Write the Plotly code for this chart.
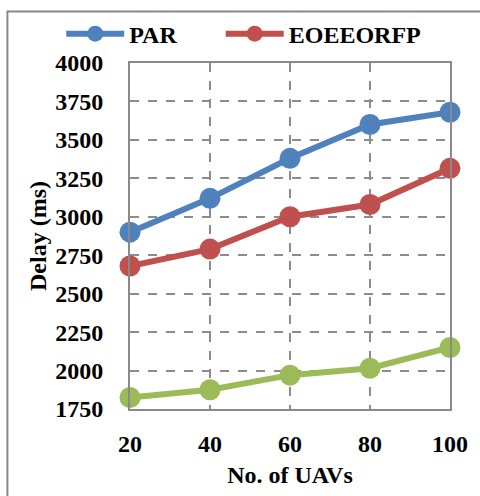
import plotly.graph_objects as go

# Delay versus number of UAVs
uav_counts = [20, 40, 60, 80, 100]
par_delay = [2900, 3120, 3380, 3600, 3680]
eoeeorfp_delay = [2680, 2790, 3000, 3080, 3315]
third_delay = [1825, 1875, 1970, 2015, 2150]

y_ticks = [1750, 2000, 2250, 2500, 2750, 3000, 3250, 3500, 3750, 4000]
x_ticks = [20, 40, 60, 80, 100]

FONT = "Liberation Serif, Times New Roman, serif"
FS = 24
GRID = "#8c8c8c"
AXIS = "#8a8a8a"

W, H = 480, 496
L, R, T, B = 130, 29, 62, 84
pw, ph = W - L - R, H - T - B

fig = go.Figure()

series = [
    ("PAR", par_delay, "#4F81BD", "legend", True),
    ("EOEEORFP", eoeeorfp_delay, "#C0504D", "legend2", True),
    ("Other", third_delay, "#9BBB59", "legend", False),
]
for name, vals, color, leg, show in series:
    fig.add_trace(go.Scatter(
        x=uav_counts, y=vals, name=name, mode="lines+markers",
        line=dict(color=color, width=6),
        marker=dict(color=color, size=21),
        showlegend=show, legend=leg, cliponaxis=False,
    ))

legend_style = dict(
    orientation="h", xanchor="left", yanchor="top",
    y=1 + (T - 10) / ph,
    font=dict(family=FONT, size=FS, color="black", weight="bold"),
    itemwidth=58, bgcolor="rgba(0,0,0,0)",
)

fig.update_layout(
    width=W, height=H,
    margin=dict(l=L, r=R, t=T, b=B),
    paper_bgcolor="white", plot_bgcolor="white",
    font=dict(family=FONT, size=FS, color="black", weight="bold"),
    showlegend=True,
    legend=dict(x=(61 - L) / pw, **legend_style),
    legend2=dict(x=(221 - L) / pw, **legend_style),
    xaxis=dict(
        range=[20, 100], tickvals=x_ticks, ticks="", ticklen=0,
        ticklabelstandoff=12,
        showgrid=True, gridcolor=GRID, griddash="dash", gridwidth=1.5,
        showline=True, linecolor=AXIS, linewidth=2, mirror=True,
        zeroline=False,
        tickfont=dict(family=FONT, size=FS, weight="bold"),
        title=dict(text="No. of UAVs", standoff=10,
                   font=dict(family=FONT, size=FS, weight="bold")),
    ),
    yaxis=dict(
        range=[1750, 4000], tickvals=y_ticks, ticks="",
        ticklabelstandoff=20,
        showgrid=True, gridcolor=GRID, griddash="dash", gridwidth=1.5,
        showline=True, linecolor=AXIS, linewidth=2, mirror=True,
        zeroline=False,
        tickfont=dict(family=FONT, size=FS, weight="bold"),
        title=dict(text="Delay (ms)", standoff=2,
                   font=dict(family=FONT, size=FS, weight="bold")),
    ),
)

# Outer chart frame
fig.add_shape(
    type="rect", xref="paper", yref="paper",
    x0=(7 - L) / pw, x1=(W + 20 - L) / pw,
    y0=-(B + 20) / ph, y1=1 + (T - 10) / ph,
    line=dict(color="#888888", width=2), fillcolor="rgba(0,0,0,0)", layer="below",
)

fig.write_html("out.html")
